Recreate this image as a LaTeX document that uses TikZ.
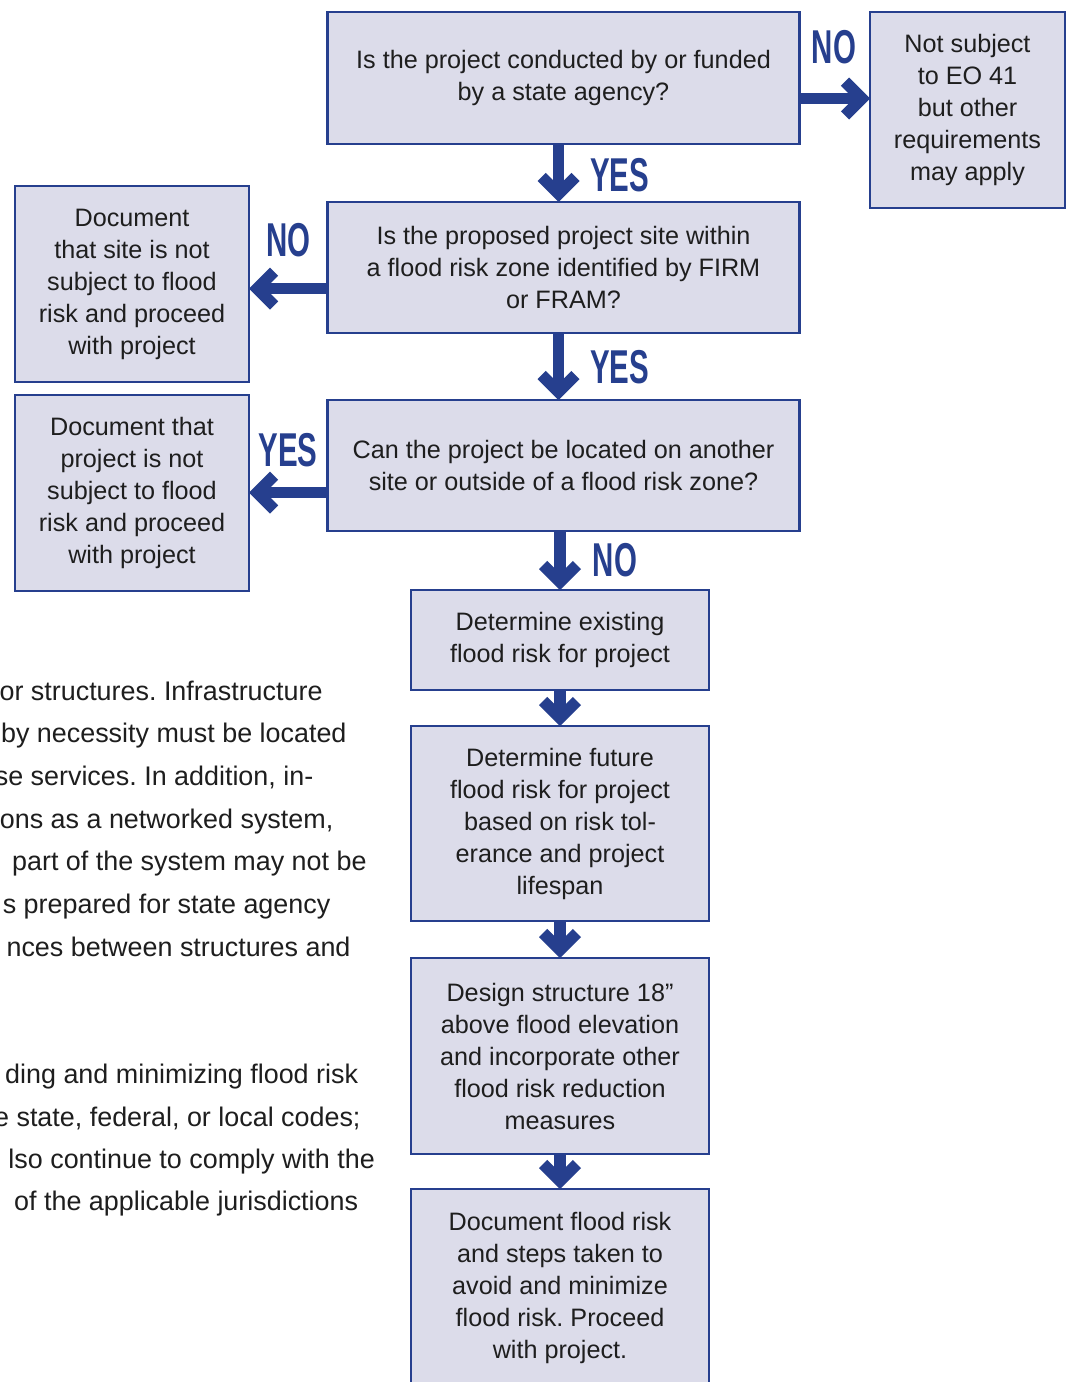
\documentclass[tikz,border=0pt]{standalone}
\usepackage{fontspec}
\setmainfont{Liberation Sans}
\usepackage{graphicx}
\frenchspacing
\definecolor{fblue}{HTML}{263F8E}
\definecolor{fbox}{HTML}{DCDCEA}
\definecolor{ftext}{HTML}{1E1E1E}
\begin{document}
\begin{tikzpicture}[x=1pt,y=-1pt,
  box/.style={draw=fblue, line width=2.6pt, fill=fbox, align=center, text=ftext,
    font=\fontsize{25.2}{32}\selectfont\frenchspacing, inner sep=0pt, outer sep=0pt},
  shaft/.style={draw=fblue, line width=11.6pt, shorten >=10pt},
  lab/.style={text=fblue, font=\fontsize{47.5}{47.5}\selectfont\bfseries, inner sep=0pt},
  body/.style={text=ftext, font=\fontsize{26.9}{30}\selectfont\frenchspacing, inner sep=0pt, anchor=base east},
  chev/.pic={\fill[fblue] (0,0) -- (-21,21) -- (-29.13,12.87) -- (-16.26,0) -- (-29.13,-12.87) -- (-21,-21) -- cycle;}
]
\useasboundingbox[fill=white] (0,0) rectangle (1071,1382);
\clip (0,0) rectangle (1071,1382);

% boxes
\node[box, minimum width=472pt, minimum height=132pt] (B1) at (563.5,78)
  {Is the project conducted by or funded\\by a state agency?};
\node[box, minimum width=195pt, minimum height=196pt] (N1) at (967.5,110)
  {Not subject\\to EO 41\\but other\\requirements\\may apply};
\node[box, minimum width=472pt, minimum height=131pt] (B2) at (563.5,267.5)
  {Is the proposed project site within\\a flood risk zone identified by FIRM\\or FRAM?};
\node[box, minimum width=234pt, minimum height=196pt] (L1) at (132,284)
  {Document\\that site is not\\subject to flood\\risk and proceed\\with project};
\node[box, minimum width=472pt, minimum height=131pt] (B3) at (563.5,465.5)
  {Can the project be located on another\\site or outside of a flood risk zone?};
\node[box, minimum width=234pt, minimum height=196pt] (L2) at (132,493)
  {Document that\\project is not\\subject to flood\\risk and proceed\\with project};
\node[box, minimum width=298pt, minimum height=100pt] (B4) at (560,640)
  {Determine existing\\flood risk for project};
\node[box, minimum width=298pt, minimum height=195pt] (B5) at (560,823.5)
  {Determine future\\flood risk for project\\based on risk tol-\\erance and project\\lifespan};
\node[box, minimum width=298pt, minimum height=196pt] (B6) at (560,1056)
  {Design structure 18”\\above flood elevation\\and incorporate other\\flood risk reduction\\measures};
\node[box, minimum width=298pt, minimum height=197pt] (B7) at (560,1287.5)
  {Document flood risk\\and steps taken to\\avoid and minimize\\flood risk. Proceed\\with project.};

% connectors
\draw[shaft] ([xshift=-5pt]B1.south) -- ([xshift=-5pt]B2.north);
\pic[rotate=-90] at ([xshift=-5pt]B2.north) {chev};
\draw[shaft] ([xshift=-5pt]B2.south) -- ([xshift=-5pt]B3.north);
\pic[rotate=-90] at ([xshift=-5pt]B3.north) {chev};
\draw[shaft] (B4.north |- B3.south) -- (B4.north);
\pic[rotate=-90] at (B4.north) {chev};
\draw[shaft] (B4.south) -- (B5.north);
\pic[rotate=-90] at (B5.north) {chev};
\draw[shaft] (B5.south) -- (B6.north);
\pic[rotate=-90] at (B6.north) {chev};
\draw[shaft] (B6.south) -- (B7.north);
\pic[rotate=-90] at (B7.north) {chev};

\draw[shaft] ([yshift=-20.5pt]B1.east) -- ([yshift=-20.5pt]B1.east -| N1.west);
\pic at ([yshift=-20.5pt]B1.east -| N1.west) {chev};
\draw[shaft] ([yshift=-21pt]B2.west) -- ([yshift=-21pt]B2.west -| L1.east);
\pic[rotate=180] at ([yshift=-21pt]B2.west -| L1.east) {chev};
\draw[shaft] ([yshift=-27pt]B3.west) -- ([yshift=-27pt]B3.west -| L2.east);
\pic[rotate=180] at ([yshift=-27pt]B3.west -| L2.east) {chev};

% labels
\node[lab] (y1) at (619.5,175) {\scalebox{0.62}[1]{YES}};
\node[lab] (n1) at (834,47) {\scalebox{0.62}[1]{NO}};
\node[lab] (n2) at (288.5,240) {\scalebox{0.62}[1]{NO}};
\node[lab] (y2) at (619.5,367) {\scalebox{0.62}[1]{YES}};
\node[lab] (y3) at (288,450) {\scalebox{0.62}[1]{YES}};
\node[lab] (n3) at (615,560) {\scalebox{0.62}[1]{NO}};

% clipped body text
\node[body] (t1) at (322.7,700) {or structures. Infrastructure};
\node[body] (t2) at (346.7,742.7) {by necessity must be located};
\node[body] (t3) at (313.5,785.4) {se services. In addition, in-};
\node[body] (t4) at (333.5,828) {ons as a networked system,};
\node[body] (t5) at (366.7,870.8) {part of the system may not be};
\node[body] (t6) at (330.5,913.5) {s prepared for state agency};
\node[body] (t7) at (350.7,956) {nces between structures and};
\node[body] (t8) at (358.3,1083.3) {ding and minimizing flood risk};
\node[body] (t9) at (360.7,1126) {e state, federal, or local codes;};
\node[body] (t10) at (375,1168.3) {lso continue to comply with the};
\node[body] (t11) at (358.3,1210.7) {of the applicable jurisdictions};
\end{tikzpicture}
\end{document}
